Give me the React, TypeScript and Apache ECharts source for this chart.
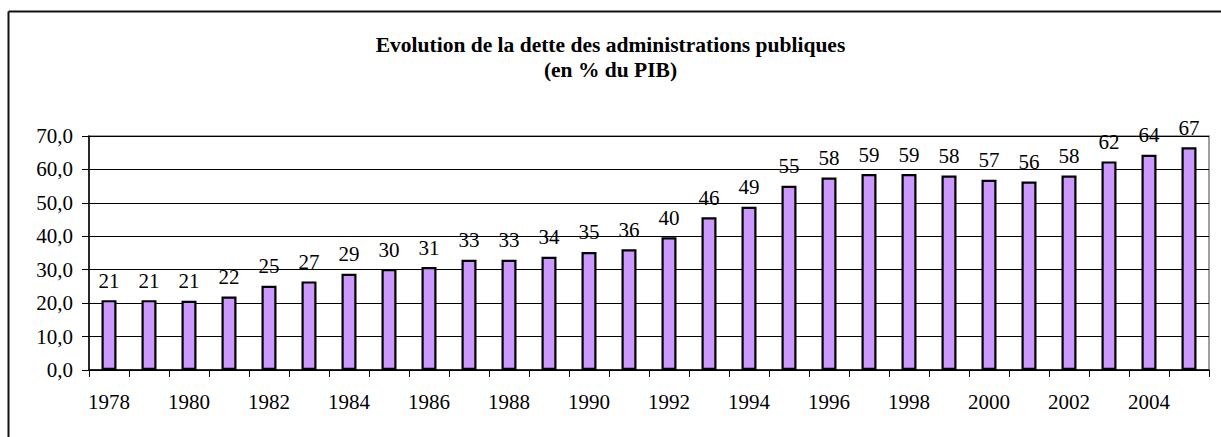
import React, { useEffect, useRef } from "react";
import * as echarts from "echarts";

const years = [
  "1978", "1979", "1980", "1981", "1982", "1983", "1984", "1985", "1986", "1987",
  "1988", "1989", "1990", "1991", "1992", "1993", "1994", "1995", "1996", "1997",
  "1998", "1999", "2000", "2001", "2002", "2003", "2004", "2005",
];
const debtValues = [
  20.9, 20.9, 20.7, 22.0, 25.2, 26.5, 28.8, 30.2, 30.8, 33.0,
  33.0, 33.9, 35.3, 36.1, 39.7, 45.7, 48.8, 55.1, 57.6, 58.6,
  58.6, 58.2, 56.9, 56.4, 58.2, 62.4, 64.4, 66.6,
];
const titleLines = ["Evolution de la dette des administrations publiques", "(en % du PIB)"];
const yTicks = { min: 0, max: 70, interval: 10 };

const SERIF = "Liberation Serif";

export default function App() {
  const ref = useRef<HTMLDivElement>(null);
  useEffect(() => {
    if (!ref.current) return;
    const chart = echarts.init(ref.current, null, { renderer: "svg" });
    chart.setOption({
      animation: false,
      backgroundColor: "#ffffff",
      title: {
        text: titleLines.join("\n"),
        left: "center",
        top: 27,
        textStyle: {
          fontFamily: SERIF,
          fontWeight: "bold",
          fontSize: 21.5,
          lineHeight: 25,
          color: "#000",
        },
      },
      grid: {
        left: 89,
        top: 136,
        right: 12,
        bottom: 67,
        show: true,
        borderColor: "#808080",
        borderWidth: 1.5,
        containLabel: false,
      },
      xAxis: {
        type: "category",
        data: years,
        boundaryGap: true,
        axisLine: { lineStyle: { color: "#000", width: 1.5 } },
        axisTick: { show: true, length: 7, alignWithLabel: false, interval: 0, lineStyle: { color: "#000" } },
        axisLabel: {
          interval: 1,
          margin: 21,
          fontFamily: SERIF,
          fontSize: 21,
          color: "#000",
        },
      },
      yAxis: {
        type: "value",
        min: yTicks.min,
        max: yTicks.max,
        interval: yTicks.interval,
        axisLine: { show: true, lineStyle: { color: "#000", width: 1.5 } },
        axisTick: { show: true, length: 7, lineStyle: { color: "#000" } },
        splitLine: { show: true, lineStyle: { color: "#000", width: 1 } },
        axisLabel: {
          margin: 16,
          fontFamily: SERIF,
          fontSize: 21,
          color: "#000",
          formatter: (v: number) => v.toFixed(1).replace(".", ","),
        },
      },
      series: [
        {
          type: "bar",
          data: debtValues,
          barWidth: 15,
          itemStyle: { color: "#CC99FF", borderColor: "#000", borderWidth: 2.2 },
          label: {
            show: true,
            position: "top",
            distance: 9,
            fontFamily: SERIF,
            fontSize: 21,
            color: "#000",
            formatter: (p: any) => String(Math.round(p.value)),
          },
        },
      ],
      graphic: [
        { type: "line", shape: { x1: 8.5, y1: 11.5, x2: 1221, y2: 11.5 }, style: { stroke: "#111", lineWidth: 2 }, silent: true },
        { type: "line", shape: { x1: 8.5, y1: 11.5, x2: 8.5, y2: 437 }, style: { stroke: "#111", lineWidth: 2 }, silent: true },
      ],
    });
    return () => chart.dispose();
  }, []);
  return (
    <div
      ref={ref}
      style={{ position: "fixed", left: 0, top: 0, width: 1221, height: 437 }}
    />
  );
}
